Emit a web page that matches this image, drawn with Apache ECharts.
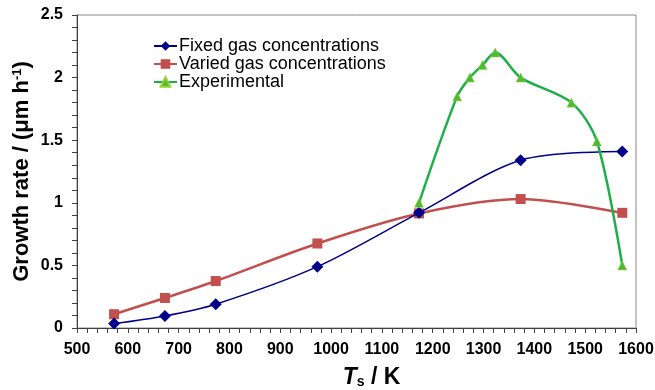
<!DOCTYPE html>
<html>
<head>
<meta charset="utf-8">
<script src="https://cdn.jsdelivr.net/npm/echarts@6/dist/echarts.min.js"></script>
<style>html,body{margin:0;padding:0;background:#fff}#c{width:655px;height:390px}</style>
</head>
<body>
<div id="c"></div>
<script>
const seriesNames = ['Fixed gas concentrations', 'Varied gas concentrations', 'Experimental'];
const fixedT = [573, 673, 773, 973, 1173, 1373, 1573];
const fixedRate = [0.035, 0.096, 0.19, 0.49, 0.92, 1.34, 1.41];
const variedT = [573, 673, 773, 973, 1173, 1373, 1573];
const variedRate = [0.11, 0.24, 0.375, 0.675, 0.915, 1.03, 0.92];
const expT = [1173, 1248, 1273, 1298, 1323, 1373, 1473, 1523, 1573];
const expRate = [1.0, 1.85, 2.0, 2.1, 2.2, 2.0, 1.8, 1.49, 0.5];
const xTicks = [500, 600, 700, 800, 900, 1000, 1100, 1200, 1300, 1400, 1500, 1600];
const yTicks = [0, 0.5, 1, 1.5, 2, 2.5];

const pair = (xs, ys) => xs.map((x, i) => [x, ys[i]]);
const FONT = '"Liberation Sans", Arial, sans-serif';
const chart = echarts.init(document.getElementById('c'), null, {renderer: 'canvas'});
chart.setOption({
  animation: false,
  textStyle: {fontFamily: FONT},
  grid: {left: 77, right: 19, top: 15, bottom: 62, show: true, borderColor: '#888', borderWidth: 1,
    containLabel: false, outerBoundsMode: 'none'},
  legend: {
    orient: 'vertical', left: 153, top: 37, itemWidth: 23, itemHeight: 12, itemGap: 0,
    padding: 0,
    textStyle: {fontSize: 18, lineHeight: 17, color: '#000', fontFamily: FONT, padding: [0, 0, 0, -3]},
    data: seriesNames
  },
  xAxis: {
    type: 'value', min: xTicks[0], max: xTicks[xTicks.length - 1], interval: 100,
    axisLine: {lineStyle: {color: '#404040', width: 1}},
    axisTick: {show: true, length: 5, lineStyle: {color: '#404040'}},
    minorTick: {show: true, splitNumber: 5, length: 5, lineStyle: {color: '#404040'}},
    splitLine: {show: false},
    axisLabel: {fontSize: 16, fontWeight: 'bold', color: '#000', margin: 14, fontFamily: FONT,
      formatter: v => String(v)},
    name: '{i|T}{s|s}{b| / K}', nameLocation: 'middle', nameGap: 38, nameMoveOverlap: false,
    nameTextStyle: {
      padding: [0, 0, 0, 30],
      rich: {
        i: {fontSize: 23, fontWeight: 'bold', fontStyle: 'italic', color: '#000', fontFamily: FONT},
        s: {fontSize: 14, fontWeight: 'bold', color: '#000', verticalAlign: 'bottom', fontFamily: FONT, padding: [8, 0, 0, 0]},
        b: {fontSize: 23, fontWeight: 'bold', color: '#000', fontFamily: FONT}
      }
    }
  },
  yAxis: {
    type: 'value', min: yTicks[0], max: yTicks[yTicks.length - 1], interval: 0.5,
    axisLine: {show: true, lineStyle: {color: '#404040', width: 1}},
    axisTick: {show: true, length: 5, lineStyle: {color: '#404040'}},
    minorTick: {show: true, splitNumber: 5, length: 5, lineStyle: {color: '#404040'}},
    splitLine: {show: false},
    axisLabel: {fontSize: 16, fontWeight: 'bold', color: '#000', margin: 14, fontFamily: FONT},
    name: '{b|Growth rate / (μm h}{sup|-1}{b|)}', nameLocation: 'middle', nameGap: 44, nameMoveOverlap: false,
    nameTextStyle: {
      rich: {
        b: {fontSize: 22, fontWeight: 'bold', color: '#000', fontFamily: FONT},
        sup: {fontSize: 13, fontWeight: 'bold', color: '#000', verticalAlign: 'top', fontFamily: FONT, padding: [0, 0, 9, 0]}
      }
    }
  },
  series: [
    {
      name: seriesNames[0], type: 'line', smooth: 0.3, data: pair(fixedT, fixedRate),
      symbol: 'diamond', symbolSize: 12,
      lineStyle: {color: '#00008B', width: 1.5}, itemStyle: {color: '#00008B'}, z: 3
    },
    {
      name: seriesNames[1], type: 'line', smooth: 0.3, data: pair(variedT, variedRate),
      symbol: 'rect', symbolSize: 10,
      lineStyle: {color: '#C0504D', width: 2.5}, itemStyle: {color: '#C0504D'}, z: 2
    },
    {
      name: seriesNames[2], type: 'line', smooth: 0.3, data: pair(expT, expRate),
      symbol: 'triangle', symbolSize: 9,
      lineStyle: {color: '#1DAF48', width: 2.5}, itemStyle: {color: '#4DBB3A', borderColor: '#9ACD32', borderWidth: 0.5}, z: 4
    }
  ]
});
</script>
</body>
</html>
